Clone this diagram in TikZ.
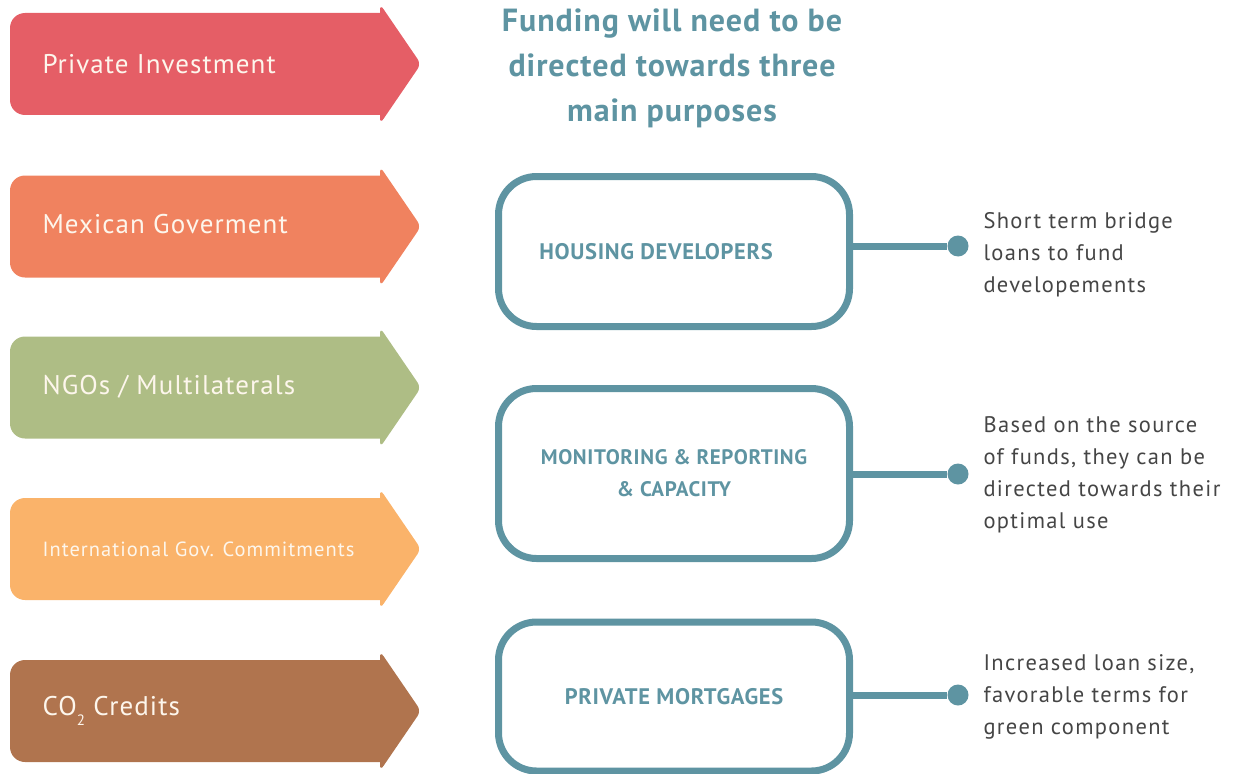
\documentclass[tikz,border=0pt]{standalone}
\usepackage{fontspec}
\setmainfont{PT Sans}
\definecolor{cRed}{HTML}{E55E66}
\definecolor{cOrange}{HTML}{F0825F}
\definecolor{cGreen}{HTML}{AEBD85}
\definecolor{cLight}{HTML}{FAB36A}
\definecolor{cBrown}{HTML}{B0744E}
\definecolor{teal}{HTML}{5E94A2}
\definecolor{cream}{HTML}{FDF6EC}
\definecolor{dark}{HTML}{454545}
\begin{document}
\begin{tikzpicture}[x=1pt,y=-1pt,
  arrowtext/.style={anchor=west,text=cream,font=\fontsize{27}{30}\selectfont\addfontfeature{LetterSpace=4}},
  purpose/.style={draw=teal,line width=7pt,rounded corners=38pt,minimum width=351pt,text=teal,font=\fontsize{22.5}{30}\selectfont\addfontfeature{LetterSpace=3}\bfseries},
  dot/.style={circle,fill=teal,minimum size=21pt,inner sep=0pt},
  link/.style={draw=teal,line width=7pt},
  note/.style={anchor=north west,text=dark,align=left,font=\fontsize{22.5}{32}\selectfont\addfontfeature{LetterSpace=6}},
  title/.style={text=teal,align=center,font=\fontsize{32}{45}\selectfont\addfontfeature{LetterSpace=3}\bfseries}]
\useasboundingbox (0,0) rectangle (1233,773);
% arrows
\foreach \yc/\col in {64/cRed,226.5/cOrange,387.5/cGreen,549/cLight,711/cBrown}{
  \fill[\col] (200,\yc-51) [rounded corners=15pt] -- (10,\yc-51) -- (10,\yc+51) [sharp corners] -- (380,\yc+51) [rounded corners=6pt] -- (380,\yc+60) -- (421,\yc) -- (380,\yc-60) [sharp corners] -- (380,\yc-51) -- cycle;
}
\node[arrowtext] (a1) at (39,64) {Private Investment};
\node[arrowtext] (a2) at (39,224) {Mexican Goverment};
\node[arrowtext] (a3) at (39,387) {NGOs / Multilaterals};
\node[arrowtext,font=\fontsize{20.5}{24}\selectfont\addfontfeature{LetterSpace=5}] (a4) at (39,549) {International Gov. Commitments};
\node[arrowtext] (a5) at (39,711) {CO\raisebox{-0.35em}{\fontsize{15}{15}\selectfont 2} Credits};
% title
\node[title] (t) at (672,68) {Funding will need to be\\directed towards three\\main purposes};
% boxes
\node[purpose,minimum height=150pt] (b1) at (674,251.5) {\hspace*{-36pt}HOUSING DEVELOPERS};
\node[purpose,minimum height=170pt,align=center,font=\fontsize{21}{32}\selectfont\addfontfeature{LetterSpace=3}\bfseries] (b2) at (674,473.5) {MONITORING \& REPORTING\\\& CAPACITY};
\node[purpose,minimum height=149pt] (b3) at (674,696.5) {PRIVATE MORTGAGES};
% dots
\node[dot] (d1) at (958,246) {};
\node[dot] (d2) at (958,474) {};
\node[dot] (d3) at (958,695) {};
\draw[link] (b1.east |- d1) -- (d1);
\draw[link] (b2.east |- d2) -- (d2);
\draw[link] (b3.east |- d3) -- (d3);
% notes
\node[note] (n1) at (980,209) {Short term bridge\\loans to fund\\developements};
\node[note] (n2) at (980,413) {Based on the source\\of funds, they can be\\directed towards their\\optimal use};
\node[note] (n3) at (980,651) {Increased loan size,\\favorable terms for\\green component};
\end{tikzpicture}
\end{document}
